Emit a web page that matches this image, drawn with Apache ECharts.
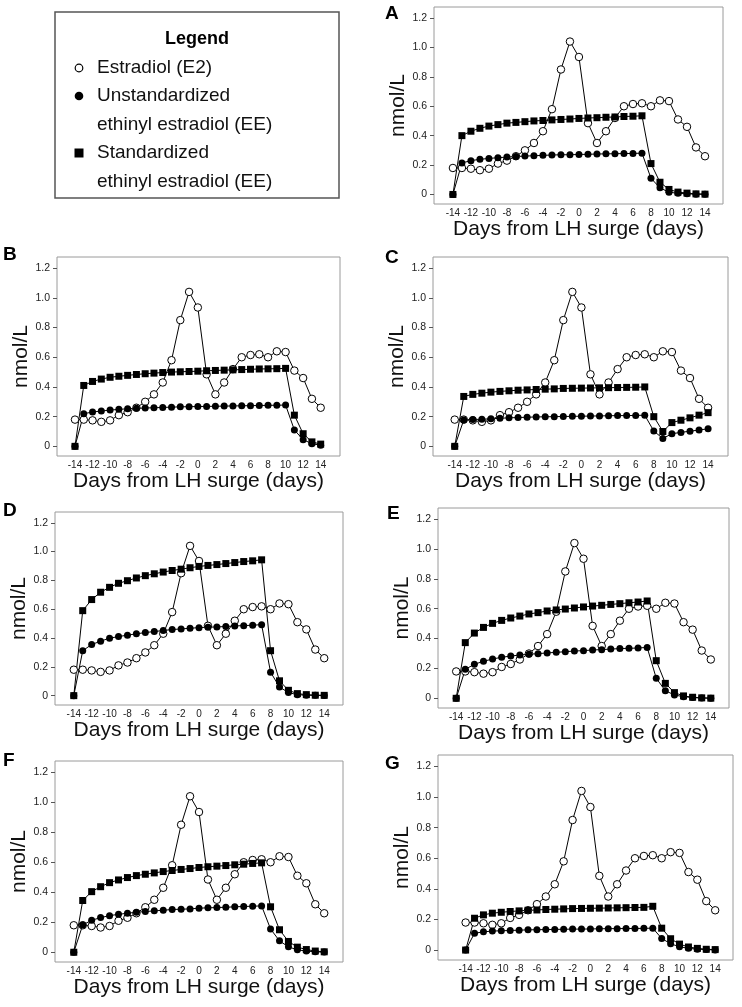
<!DOCTYPE html>
<html><head><meta charset="utf-8">
<script src="https://cdn.jsdelivr.net/npm/echarts@6/dist/echarts.min.js"></script>
<style>html,body{margin:0;padding:0;background:#fff}#c{width:742px;height:1007px}</style>
</head><body><div id="c"></div>
<script>
// ---------- data ----------
const days = [-14,-13,-12,-11,-10,-9,-8,-7,-6,-5,-4,-3,-2,-1,0,1,2,3,4,5,6,7,8,9,10,11,12,13,14];
const xTickLabels = [-14,-12,-10,-8,-6,-4,-2,0,2,4,6,8,10,12,14];
const yTickLabels = [0,0.2,0.4,0.6,0.8,1.0,1.2];
const panelLetters = ['A','B','C','D','E','F','G'];
const seriesNames = ['Estradiol (E2)','Unstandardized ethinyl estradiol (EE)','Standardized ethinyl estradiol (EE)'];

const e2 = [0.18,0.18,0.175,0.165,0.175,0.21,0.23,0.26,0.30,0.35,0.43,0.58,0.85,1.04,0.935,0.485,0.35,0.43,0.52,0.60,0.615,0.62,0.60,0.64,0.635,0.51,0.46,0.32,0.26];

const unstdA = [0,0.214,0.23,0.239,0.245,0.25,0.254,0.258,0.261,0.263,0.266,0.268,0.27,0.27,0.272,0.273,0.275,0.276,0.277,0.278,0.279,0.281,0.11,0.045,0.015,0.008,0.004,0.002,0.001];
const stdA   = [0,0.40,0.43,0.45,0.465,0.475,0.485,0.49,0.495,0.50,0.503,0.507,0.51,0.513,0.517,0.52,0.522,0.525,0.527,0.53,0.532,0.535,0.21,0.083,0.034,0.016,0.009,0.004,0.002];

const unstdB = [0,0.22,0.231,0.238,0.244,0.249,0.253,0.256,0.258,0.26,0.262,0.264,0.266,0.267,0.268,0.269,0.27,0.271,0.272,0.273,0.274,0.275,0.276,0.277,0.278,0.11,0.045,0.018,0.008];
const stdB   = [0,0.41,0.437,0.453,0.465,0.472,0.478,0.484,0.489,0.493,0.497,0.50,0.502,0.504,0.506,0.509,0.511,0.513,0.515,0.517,0.519,0.521,0.522,0.523,0.525,0.21,0.085,0.03,0.015];

const unstdC = [0,0.178,0.18,0.183,0.185,0.189,0.192,0.194,0.196,0.198,0.199,0.2,0.201,0.202,0.203,0.204,0.205,0.206,0.207,0.207,0.208,0.21,0.103,0.053,0.085,0.094,0.102,0.11,0.118];
const stdC   = [0,0.336,0.35,0.358,0.365,0.37,0.374,0.378,0.38,0.383,0.385,0.387,0.39,0.391,0.392,0.393,0.394,0.395,0.396,0.397,0.398,0.40,0.20,0.10,0.16,0.176,0.192,0.21,0.227];

const unstdD = [0,0.312,0.355,0.378,0.399,0.41,0.42,0.429,0.438,0.445,0.452,0.459,0.463,0.468,0.472,0.475,0.477,0.48,0.484,0.486,0.489,0.493,0.163,0.06,0.021,0.007,0.003,0.002,0.001];
const stdD   = [0,0.59,0.667,0.718,0.752,0.78,0.798,0.817,0.833,0.846,0.858,0.869,0.878,0.888,0.897,0.904,0.91,0.917,0.924,0.931,0.936,0.943,0.312,0.103,0.037,0.014,0.007,0.003,0.002];

const unstdE = [0,0.194,0.228,0.248,0.263,0.275,0.283,0.29,0.295,0.299,0.304,0.308,0.312,0.317,0.319,0.324,0.326,0.33,0.333,0.335,0.337,0.341,0.134,0.051,0.022,0.011,0.005,0.002,0.001];
const stdE   = [0,0.373,0.437,0.475,0.502,0.522,0.538,0.551,0.565,0.574,0.585,0.592,0.598,0.605,0.612,0.618,0.623,0.629,0.634,0.64,0.645,0.652,0.252,0.10,0.038,0.016,0.007,0.003,0.001];

const unstdF = [0,0.182,0.213,0.231,0.244,0.253,0.26,0.267,0.271,0.276,0.28,0.285,0.287,0.289,0.294,0.296,0.298,0.3,0.303,0.305,0.307,0.309,0.155,0.076,0.036,0.016,0.008,0.003,0.001];
const stdF   = [0,0.345,0.404,0.437,0.464,0.482,0.498,0.511,0.52,0.529,0.538,0.545,0.552,0.558,0.565,0.57,0.574,0.578,0.583,0.587,0.592,0.596,0.303,0.15,0.072,0.034,0.018,0.008,0.003];

const unstdG = [0,0.11,0.119,0.124,0.126,0.128,0.13,0.132,0.133,0.134,0.135,0.136,0.137,0.137,0.138,0.139,0.14,0.14,0.141,0.141,0.142,0.143,0.076,0.041,0.022,0.011,0.006,0.003,0.001];
const stdG   = [0,0.208,0.23,0.241,0.247,0.252,0.256,0.26,0.262,0.265,0.267,0.269,0.271,0.272,0.273,0.274,0.275,0.276,0.277,0.278,0.279,0.286,0.143,0.074,0.039,0.02,0.011,0.005,0.003];

const panelUnstd = [unstdA, unstdB, unstdC, unstdD, unstdE, unstdF, unstdG];
const panelStd   = [stdA, stdB, stdC, stdD, stdE, stdF, stdG];

// ---------- layout (pixels) ----------
const layout = [
  {l:434, t:7,   r:723, b:204, xmin:-16.1, xmax:16,   lx:385, ly:4,   ng:24},
  {l:57,  t:257, r:340, b:456, xmin:-16.05,xmax:16.2, lx:3,   ly:245, ng:22},
  {l:433, t:257, r:728, b:456, xmin:-16.4, xmax:16.2, lx:385, ly:248, ng:24},
  {l:55,  t:512, r:343, b:705, xmin:-16.1, xmax:16.1, lx:3,   ly:501, ng:22},
  {l:438, t:508, r:729, b:708, xmin:-16,   xmax:16,   lx:387, ly:504, ng:24},
  {l:55,  t:761, r:343, b:962, xmin:-16.1, xmax:16.1, lx:3,   ly:751, ng:22},
  {l:438, t:755, r:733, b:960, xmin:-17.1, xmax:16,   lx:385, ly:754, ng:24}
];

const FONT = "'Liberation Sans', Arial, Helvetica, sans-serif";
const grids = [], xAxes = [], yAxes = [], series = [], titles = [];

layout.forEach((p, i) => {
  grids.push({left:p.l, top:p.t, width:p.r - p.l, height:p.b - p.t, show:true,
    borderColor:'#9a9a9a', borderWidth:1, backgroundColor:'transparent'});
  xAxes.push({type:'value', gridIndex:i, min:p.xmin, max:p.xmax, position:'bottom',
    name:'Days from LH surge (days)', nameLocation:'middle', nameGap:14,
    nameTextStyle:{fontFamily:FONT, fontSize:21, color:'#111'},
    axisLine:{show:false, onZero:false}, axisTick:{show:false}, splitLine:{show:false},
    axisLabel:{customValues:xTickLabels, margin:4, fontFamily:"'Liberation Sans Narrow', " + FONT,
      fontSize:10, color:'#222', showMinLabel:true, showMaxLabel:true}});
  yAxes.push({type:'value', gridIndex:i, min:-0.065, max:1.275, position:'left',
    name:'nmol/L', nameLocation:'middle', nameGap:p.ng,
    nameTextStyle:{fontFamily:FONT, fontSize:21, color:'#111'},
    axisLine:{show:false, onZero:false}, splitLine:{show:false},
    axisTick:{show:true, customValues:yTickLabels, length:4, lineStyle:{color:'#555', width:1}},
    axisLabel:{customValues:yTickLabels, margin:7, fontFamily:FONT, fontSize:10.5, color:'#222',
      formatter: v => (Math.abs(v) < 1e-9 ? '0' : v.toFixed(1))}});
  titles.push({text:panelLetters[i], left:p.lx, top:p.ly, padding:0,
    textStyle:{fontFamily:FONT, fontSize:19, fontWeight:'bold', color:'#000'}});

  const common = {type:'line', xAxisIndex:i, yAxisIndex:i, silent:true, animation:false,
    lineStyle:{color:'#000', width:1}};
  series.push(Object.assign({}, common, {name:seriesNames[0], symbol:'circle', symbolSize:7.5,
    itemStyle:{color:'#fff', borderColor:'#000', borderWidth:1},
    data: days.map((d, k) => [d, e2[k]])}));
  series.push(Object.assign({}, common, {name:seriesNames[1], symbol:'circle', symbolSize:7,
    itemStyle:{color:'#000', borderColor:'#000', borderWidth:0},
    data: days.map((d, k) => [d, panelUnstd[i][k]])}));
  series.push(Object.assign({}, common, {name:seriesNames[2], symbol:'rect', symbolSize:7,
    itemStyle:{color:'#000', borderColor:'#000', borderWidth:0},
    data: days.map((d, k) => [d, panelStd[i][k]])}));
});

// ---------- legend box (drawn as graphics) ----------
const LX = 55, LY = 12, LW = 284, LH = 186;
const legendText = {fontFamily:FONT, fontSize:19, fill:'#111'};
const graphic = [
  {type:'rect', shape:{x:LX, y:LY, width:LW, height:LH}, style:{fill:'#fff', stroke:'#555', lineWidth:1.5}, z:1},
  {type:'text', x:197, y:39, style:Object.assign({}, legendText, {text:'Legend', fontWeight:'bold', fontSize:18, align:'center', verticalAlign:'middle', fill:'#000'}), z:2},
  {type:'circle', shape:{cx:79, cy:68, r:3.8}, style:{fill:'#fff', stroke:'#000', lineWidth:1.2}, z:2},
  {type:'text', x:97, y:68, style:Object.assign({}, legendText, {text:'Estradiol (E2)', verticalAlign:'middle'}), z:2},
  {type:'circle', shape:{cx:79, cy:96, r:4.3}, style:{fill:'#000'}, z:2},
  {type:'text', x:97, y:96, style:Object.assign({}, legendText, {text:'Unstandardized', verticalAlign:'middle'}), z:2},
  {type:'text', x:97, y:125, style:Object.assign({}, legendText, {text:'ethinyl estradiol (EE)', verticalAlign:'middle'}), z:2},
  {type:'rect', shape:{x:74.5, y:148.5, width:9, height:9}, style:{fill:'#000'}, z:2},
  {type:'text', x:97, y:153, style:Object.assign({}, legendText, {text:'Standardized', verticalAlign:'middle'}), z:2},
  {type:'text', x:97, y:182, style:Object.assign({}, legendText, {text:'ethinyl estradiol (EE)', verticalAlign:'middle'}), z:2}
];

const chart = echarts.init(document.getElementById('c'), null, {renderer:'canvas'});
chart.setOption({
  backgroundColor:'#fff',
  animation:false,
  title: titles,
  grid: grids,
  xAxis: xAxes,
  yAxis: yAxes,
  series: series,
  graphic: graphic
});
</script>
</body></html>
